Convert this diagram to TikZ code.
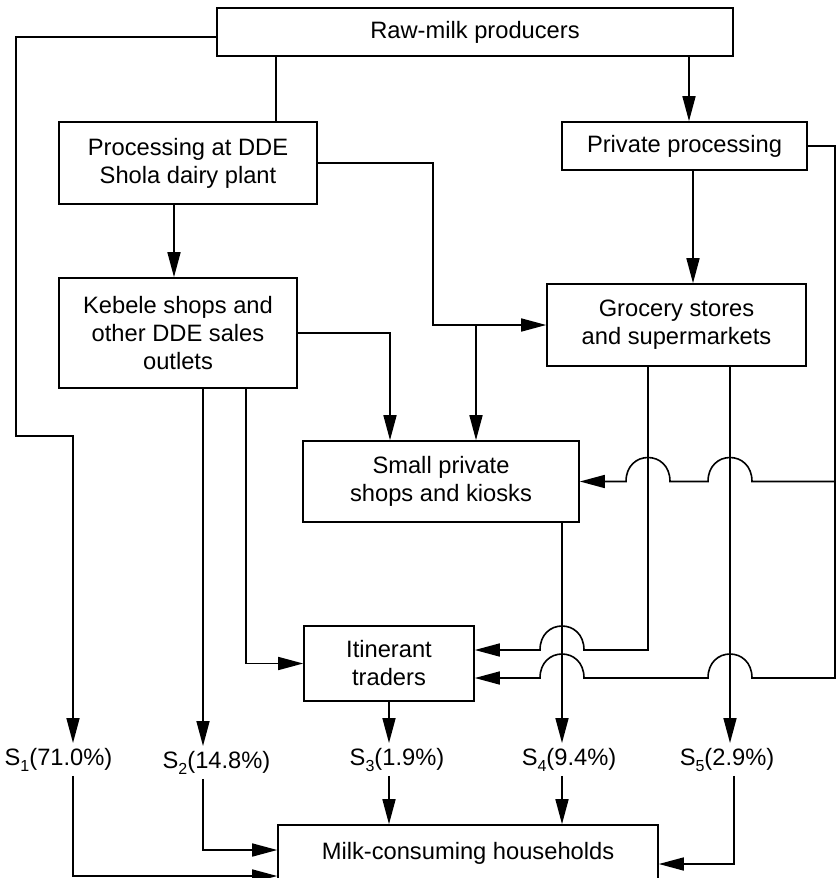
\documentclass[tikz,border=0pt]{standalone}
\usepackage{fontspec}
\setmainfont{Liberation Sans}
\usepackage{tikz}
\usetikzlibrary{arrows.meta}
\newcommand{\chsub}[1]{\raisebox{-6pt}{\fontsize{16}{16}\selectfont #1}}

\begin{document}
\begin{tikzpicture}[x=1pt,y=-1pt,font=\fontsize{23.7}{28}\selectfont,line width=1.6pt,
  box/.style={draw,align=center,inner sep=0pt},
  share/.style={inner xsep=0pt,inner ysep=4pt,anchor=base},
  arr/.style={-{Triangle[length=25pt,width=13pt]}}]
\useasboundingbox (0,0) rectangle (839,878);

% actors
\node[box,minimum width=516pt,minimum height=48pt] (raw) at (475,32) {Raw-milk producers};
\node[box,minimum width=258pt,minimum height=82pt] (proc) at (188,163) {Processing at DDE\\Shola dairy plant};
\node[box,minimum width=245pt,minimum height=48pt] (priv) at (684.5,146) {Private processing};
\node[box,minimum width=238pt,minimum height=110pt] (keb) at (178,333) {Kebele shops and\\other DDE sales\\outlets};
\node[box,minimum width=259pt,minimum height=82pt] (groc) at (676.5,325) {Grocery stores\\and supermarkets};
\node[box,minimum width=276pt,minimum height=81pt] (small) at (441,481.5) {Small private\\shops and kiosks};
\node[box,minimum width=170pt,minimum height=75pt] (itin) at (389,663.5) {Itinerant\\traders};
\node[box,minimum width=380pt,minimum height=56pt] (milk) at (468,853) {Milk-consuming households};

% channel shares
\node[share] (s1) at (58.5,765) {S\chsub{1}(71.0\%)};
\node[share] (s2) at (216.5,768) {S\chsub{2}(14.8\%)};
\node[share] (s3) at (397,765) {S\chsub{3}(1.9\%)};
\node[share] (s4) at (569,765) {S\chsub{4}(9.4\%)};
\node[share] (s5) at (727,765) {S\chsub{5}(2.9\%)};

% bend points
\coordinate (c0) at (16,436);
\coordinate (c1) at (73,436);
\coordinate (c2) at (203,0);
\coordinate (c3) at (246,663.5);
\coordinate (cA) at (276,0);
\coordinate (cB) at (689,0);
\coordinate (cC) at (693,0);
\coordinate (cD) at (174,0);
\coordinate (cE) at (433,325);
\coordinate (cF) at (476,325);
\coordinate (cG) at (390,333);
\coordinate (gA) at (648,650);
\coordinate (gB) at (730,0);
\coordinate (sA) at (562,0);
\coordinate (rM) at (835,481.5);
\coordinate (rB) at (835,678);
\coordinate (b1) at (73,876);
\coordinate (b2) at (203,850);
\coordinate (b5) at (734,864);

\draw (raw.south -| cA) -- (proc.north -| cA);
\draw[arr] (raw.south -| cB) -- (priv.north -| cB);
\draw[arr] (priv.south -| cC) -- (groc.north -| cC);
\draw[arr] (proc.south -| cD) -- (keb.north -| cD);
\draw[arr] (raw.west |- 0,37) -| (c0) -- (c1) -- (s1.north -| c1);
\draw[arr] (proc.east) -| (cE) -- (groc.west);
\draw[arr] (cF) -- (small.north -| cF);
\draw[arr] (keb.east) -| (small.north -| cG);
\draw[arr] (keb.south -| c2) -- (s2.north -| c2);
\draw[arr] (keb.south -| c3) -- (c3) -- (itin.west);
\draw[arr] (itin.south) -- (s3.north -| itin.south);
\draw[arr] (small.south -| sA) -- (s4.north -| sA);
\draw[arr] (groc.south -| gB) -- (s5.north -| gB);

% crossings
\draw[arr] (priv.east) -| (rB) -- (752,678) .. controls +(0,-32) and +(0,-32) .. ++(-44,0)
  -- (584,678) .. controls +(0,-32) and +(0,-32) .. ++(-44,0) -- (itin.east |- rB);
\draw[arr] (rM) -- (752,481.5) .. controls +(0,-32) and +(0,-32) .. ++(-44,0)
  -- (670,481.5) .. controls +(0,-32) and +(0,-32) .. ++(-44,0) -- (small.east);
\draw[arr] (groc.south -| gA) -- (gA) -- (584,650) .. controls +(0,-32) and +(0,-32) .. ++(-44,0)
  -- (itin.east |- gA);

% to households
\draw[arr] (s1.south -| b1) -- (b1) -- (milk.west |- b1);
\draw[arr] (s2.south -| b2) -- (b2) -- (milk.west |- b2);
\draw[arr] (s3.south -| itin.south) -- (milk.north -| itin.south);
\draw[arr] (s4.south -| sA) -- (milk.north -| sA);
\draw[arr] (s5.south -| b5) -- (b5) -- (milk.east |- b5);
\end{tikzpicture}
\end{document}
